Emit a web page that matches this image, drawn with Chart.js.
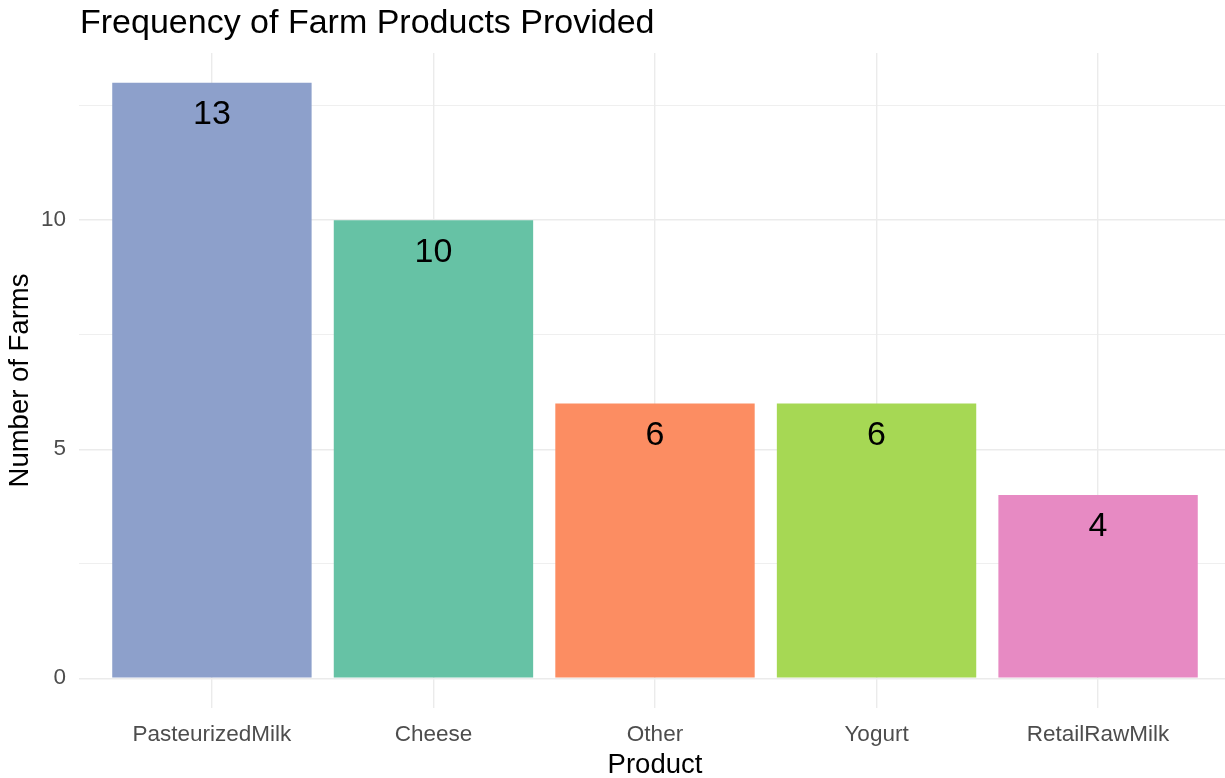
<!DOCTYPE html>
<html>
<head>
<meta charset="utf-8">
<script src="https://cdn.jsdelivr.net/npm/chart.js@4/dist/chart.umd.min.js"></script>
<style>
  html, body { margin: 0; padding: 0; background: #fff; overflow: hidden; }
  #wrap { width: 1232px; height: 778px; position: relative; }
</style>
</head>
<body>
<div id="wrap"><canvas id="grafFarmy"></canvas></div>
<script>
const produkty = ["PasteurizedMilk", "Cheese", "Other", "Yogurt", "RetailRawMilk"];
const pocetFarem = [13, 10, 6, 6, 4];
const barvy = ["#8DA0CB", "#66C2A5", "#FC8D62", "#A6D854", "#E78AC3"];
const yZnacky = [0, 2.5, 5, 7.5, 10, 12.5];
const nadpis = "Frequency of Farm Products Provided";

const pismo = "'Liberation Sans', Arial, sans-serif";

// nadpis nad grafem, zarovnaný k levému okraji panelu
const nadpisPlugin = {
    id: "nadpis",
    afterDraw(chart) {
        const ctx = chart.ctx;
        ctx.save();
        ctx.font = "34px " + pismo;
        ctx.fillStyle = "#000";
        ctx.textAlign = "left";
        ctx.textBaseline = "alphabetic";
        ctx.fillText(nadpis, chart.chartArea.left + 1, 33);
        ctx.restore();
    }
};

// čísla uvnitř sloupců, kousek pod horní hranou
const popiskyPlugin = {
    id: "popisky",
    afterDatasetsDraw(chart) {
        const ctx = chart.ctx;
        const meta = chart.getDatasetMeta(0);
        ctx.save();
        ctx.font = "34px " + pismo;
        ctx.fillStyle = "#000";
        ctx.textAlign = "center";
        ctx.textBaseline = "middle";
        meta.data.forEach(function(bar, i) {
            ctx.fillText(String(pocetFarem[i]), bar.x, bar.y + 32);
        });
        ctx.restore();
    }
};

const ctx = document.getElementById("grafFarmy").getContext("2d");
new Chart(ctx, {
    type: "bar",
    data: {
        datasets: [{
            data: pocetFarem.map((v, i) => ({ x: i, y: v })),
            backgroundColor: barvy,
            borderWidth: 0,
            barPercentage: 0.9,
            categoryPercentage: 1
        }]
    },
    options: {
        responsive: true,
        maintainAspectRatio: false,
        animation: false,
        layout: { padding: { top: 53, right: 1, left: 0, bottom: 0 } },
        plugins: { legend: { display: false }, tooltip: { enabled: false } },
        scales: {
            x: {
                type: "linear",
                offset: false,
                min: -0.6,
                max: 4.6,
                afterBuildTicks: s => { s.ticks = produkty.map((p, i) => ({ value: i })); },
                afterFit: s => { s.height = 70; },
                grid: { color: "#EBEBEB", lineWidth: 1.4, drawTicks: false, offset: false },
                border: { display: false },
                ticks: {
                    callback: v => produkty[v],
                    color: "#4D4D4D",
                    font: { family: pismo, size: 22.5 },
                    padding: 13,
                    autoSkip: false,
                    maxRotation: 0
                },
                title: {
                    display: true,
                    text: "Product",
                    color: "#000",
                    font: { family: pismo, size: 27.5, lineHeight: 1 },
                    padding: { top: 0, bottom: -1 }
                }
            },
            y: {
                min: -0.65,
                max: 13.65,
                afterBuildTicks: s => { s.ticks = yZnacky.map(v => ({ value: v })); },
                afterFit: s => { s.width = 79; },
                grid: {
                    color: "#EBEBEB",
                    lineWidth: c => (c.tick && c.tick.value % 5 === 0 ? 1.4 : 0.8),
                    drawTicks: false
                },
                border: { display: false },
                ticks: {
                    callback: v => (v % 5 === 0 ? v : ""),
                    color: "#4D4D4D",
                    font: { family: pismo, size: 22.5 },
                    padding: 13
                },
                title: {
                    display: true,
                    text: "Number of Farms",
                    color: "#000",
                    font: { family: pismo, size: 27.5, lineHeight: 1 },
                    padding: { top: 7, bottom: 0 }
                }
            }
        }
    },
    plugins: [nadpisPlugin, popiskyPlugin]
});
</script>
</body>
</html>
